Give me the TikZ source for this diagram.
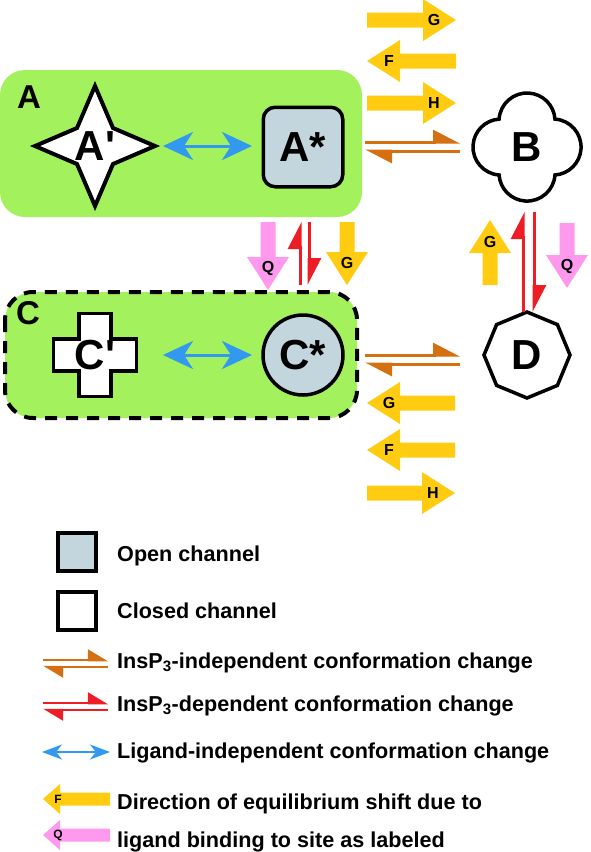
\documentclass[tikz,border=0pt]{standalone}
\usepackage{fontspec}
\setmainfont{Liberation Sans}
\usetikzlibrary{arrows.meta,calc,shapes.geometric}

\definecolor{regiongreen}{RGB}{163,241,92}
\definecolor{openfill}{RGB}{196,214,221}
\definecolor{ligandblue}{RGB}{51,153,238}
\definecolor{shiftyellow}{RGB}{255,204,17}
\definecolor{shiftpink}{RGB}{255,153,238}
\definecolor{eqorange}{RGB}{212,112,18}
\definecolor{eqred}{RGB}{238,28,36}

% sizes of the fat shift arrows
\newcommand{\shaftw}{7.5}
\newcommand{\headw}{21}
\newcommand{\headl}{33}
\newcommand{\letterd}{22}
% fat arrow: name, tail, angle, length, colour, letter
\newcommand{\shiftarrow}[6]{%
    \begin{scope}[shift = {#2}, rotate = #3]
        \fill[#5] (0,-\shaftw) -- (#4-\headl,-\shaftw) -- (#4-\headl,-\headw) -- (#4,0) -- (#4-\headl,\headw) -- (#4-\headl,\shaftw) -- (0,\shaftw) -- cycle;
        \node[arrowletter] (#1) at (#4-\letterd,0) {#6};
    \end{scope}}

\tikzset{
    channel/.style = {draw = black, line width = 3.5pt, inner sep = 0pt, font = \fontsize{42}{42}\selectfont\bfseries},
    openchannel/.style = {channel, fill = openfill},
    closedchannel/.style = {channel, fill = white},
    regionlabel/.style = {inner sep = 0pt, font = \fontsize{33}{33}\selectfont\bfseries},
    arrowletter/.style = {inner sep = 0pt, font = \fontsize{16}{16}\selectfont\bfseries},
    legendtext/.style = {anchor = base west, inner sep = 0pt, font = \fontsize{21.6}{22}\selectfont\bfseries},
    eqline/.style = {line width = 3pt, -{Triangle[harpoon, length = 24pt, width = 24pt]}},
    keyline/.style = {line width = 2.5pt, -{Triangle[harpoon, length = 18pt, width = 21pt]}},
    ligandlink/.style = {line width = 3pt, draw = ligandblue, >={Stealth[length = 30pt, width = 28pt, inset = 9pt]}, <->},
}

\begin{document}
\begin{tikzpicture}[x = 1pt, y = -1pt]
    \useasboundingbox (0,0) rectangle (590,852);
    % regions A and C
    \draw[fill = regiongreen, draw = none, rounded corners = 25pt] (0,70) rectangle (362,217);
    \draw[fill = regiongreen, line width = 4pt, dash pattern = on 12pt off 9pt, rounded corners = 28pt] (5,292) rectangle (357,418);
    \node[regionlabel] (Alabel) at (29,97) {A};
    \node[regionlabel] (Clabel) at (28,313) {C};

    % channel states
    \coordinate (Ac) at (95,146);
    \draw[closedchannel, line width = 4pt, shift = {(Ac)}] (0,-60) -- (18,-18) -- (60,0) -- (18,18) -- (0,60) -- (-18,18) -- (-60,0) -- (-18,-18) -- cycle;
    \node[channel, draw = none] (Aprime) at (Ac) {A\textquotesingle};
    \node[openchannel, rectangle, rounded corners = 12pt, minimum size = 79.5pt] (Astar) at (303,147) {A*};
    \coordinate (Bc) at (527,147);
    \draw[closedchannel, shift = {(Bc)}] (-27.9,-27.9) arc[start angle = 183.9, end angle = 356.1, radius = 28]
        arc[start angle = -86.1, end angle = 86.1, radius = 28]
        arc[start angle = 3.9, end angle = 176.1, radius = 28]
        arc[start angle = 93.9, end angle = 266.1, radius = 28] -- cycle;
    \node[channel, draw = none] (B) at (Bc) {B};
    \coordinate (Cc) at (95,355);
    \draw[closedchannel, shift = {(Cc)}] (-16,-41.5) -- (16,-41.5) -- (16,-16) -- (41.5,-16) -- (41.5,16) -- (16,16) -- (16,41.5) -- (-16,41.5) -- (-16,16) -- (-41.5,16) -- (-41.5,-16) -- (-16,-16) -- cycle;
    \node[channel, draw = none] (Cprime) at (Cc) {C\textquotesingle};
    \node[openchannel, circle, minimum size = 80pt] (Cstar) at (303,355) {C*};
    \node[closedchannel, regular polygon, regular polygon sides = 8, shape border rotate = 22.5, minimum size = 86pt] (D) at (527,355) {D};

    % ligand-independent changes
    \draw[ligandlink] ($(Aprime.center)+(68,0)$) -- ($(Astar.center)+(-51,-1)$);
    \draw[ligandlink] ($(Cprime.center)+(68,0)$) -- ($(Cstar.center)+(-51,0)$);

    % InsP3-independent changes
    \draw[eqline, draw = eqorange, fill = eqorange] ($(Astar.center)+(62,-5)$) -- ($(B.center)+(-67,-5)$);
    \draw[eqline, draw = eqorange, fill = eqorange] ($(B.center)+(-67,4)$) -- ($(Astar.center)+(62,4)$);
    \draw[eqline, draw = eqorange, fill = eqorange] ($(Cstar.center)+(62,0)$) -- ($(D.center)+(-67,0)$);
    \draw[eqline, draw = eqorange, fill = eqorange] ($(D.center)+(-67,9)$) -- ($(Cstar.center)+(62,9)$);

    % InsP3-dependent changes
    \draw[eqline, draw = eqred, fill = eqred] ($(Cstar.center)+(-3,-70)$) -- ($(Astar.center)+(-3,75)$);
    \draw[eqline, draw = eqred, fill = eqred] ($(Astar.center)+(6,75)$) -- ($(Cstar.center)+(6,-70)$);
    \draw[eqline, draw = eqred, fill = eqred] ($(D.center)+(-4,-43)$) -- ($(B.center)+(-4,65)$);
    \draw[eqline, draw = eqred, fill = eqred] ($(B.center)+(7,65)$) -- ($(D.center)+(7,-43)$);

    % equilibrium shifts
    \shiftarrow{shiftGab}{(367,20)}{0}{89}{shiftyellow}{G}
    \shiftarrow{shiftFab}{(456,61)}{180}{89}{shiftyellow}{F}
    \shiftarrow{shiftHab}{(367,103)}{0}{89}{shiftyellow}{H}
    \shiftarrow{shiftQac}{(268,222)}{270}{68}{shiftpink}{Q}
    \shiftarrow{shiftGac}{(347,222)}{270}{63}{shiftyellow}{G}
    \shiftarrow{shiftGbd}{(490,285)}{90}{65}{shiftyellow}{G}
    \shiftarrow{shiftQbd}{(567,223)}{270}{65}{shiftpink}{Q}
    \shiftarrow{shiftGcd}{(455,403)}{180}{88}{shiftyellow}{G}
    \shiftarrow{shiftFcd}{(455,450)}{180}{88}{shiftyellow}{F}
    \shiftarrow{shiftHcd}{(367,493)}{0}{88}{shiftyellow}{H}

    % legend
    \node[openchannel, rectangle, minimum size = 38pt] (openkey) at (77,552) {};
    \node[legendtext] (opentext) at (117,561) {Open channel};
    \node[closedchannel, rectangle, minimum size = 38pt] (closedkey) at (77,611) {};
    \node[legendtext] (closedtext) at (117,618) {Closed channel};
    \node[legendtext] (indeptext) at (117,668) {InsP\textsubscript{3}-independent conformation change};
    \node[legendtext] (deptext) at (117,711) {InsP\textsubscript{3}-dependent conformation change};
    \node[legendtext] (ligtext) at (117,758) {Ligand-independent conformation change};
    \node[legendtext] (shifttext) at (117,809) {Direction of equilibrium shift due to};
    \node[legendtext] (sitetext) at (117,847) {ligand binding to site as labeled};
    \draw[keyline, draw = eqorange, fill = eqorange] ($(indeptext.base west)+(-74,-8)$) -- ($(indeptext.base west)+(-9,-8)$);
    \draw[keyline, draw = eqorange, fill = eqorange] ($(indeptext.base west)+(-9,-1)$) -- ($(indeptext.base west)+(-74,-1)$);
    \draw[keyline, draw = eqred, fill = eqred] ($(deptext.base west)+(-74,-8)$) -- ($(deptext.base west)+(-9,-8)$);
    \draw[keyline, draw = eqred, fill = eqred] ($(deptext.base west)+(-9,-1)$) -- ($(deptext.base west)+(-74,-1)$);
    \draw[line width = 2.5pt, draw = ligandblue, >={Stealth[length = 20pt, width = 15pt, inset = 6pt]}, <->] ($(ligtext.base west)+(-75,-6)$) -- ($(ligtext.base west)+(-7,-6)$);
    \begin{scope}
        \renewcommand{\shaftw}{6.5}
        \renewcommand{\headw}{15}
        \renewcommand{\headl}{17}
        \renewcommand{\letterd}{15}
        \tikzset{arrowletter/.append style = {font = \fontsize{12}{12}\selectfont\bfseries}}
        \shiftarrow{keyF}{(110,799)}{180}{67}{shiftyellow}{F}
        \shiftarrow{keyQ}{(110,835)}{180}{67}{shiftpink}{Q}
    \end{scope}
\end{tikzpicture}
\end{document}
